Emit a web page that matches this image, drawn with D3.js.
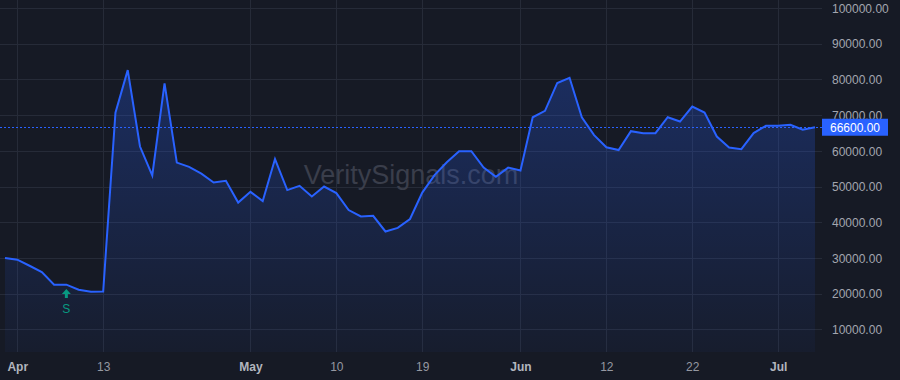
<!DOCTYPE html>
<html>
<head>
<meta charset="utf-8">
<script src="https://cdn.jsdelivr.net/npm/d3@7"></script>
<style>
  html, body { margin: 0; padding: 0; background: #161a25; }
  svg { display: block; }
  text { font-family: "Liberation Sans", Arial, sans-serif; }
</style>
</head>
<body>
<svg id="chart" width="900" height="380"></svg>
<script>
// ---- data ----
const values = [
  30000, 29500, 27800, 26050, 22500, 22500, 21100, 20550, 20600, 70700,
  82600, 61200, 53100, 78900, 56700, 55500, 53600, 51100, 51600, 45500,
  48500, 45900, 57700, 49000, 50200, 47200, 50000, 48150, 43400, 41600,
  41800, 37400, 38400, 40900, 48300, 53200, 56800, 59900, 59900, 55300,
  52700, 55300, 54500, 69400, 71200, 79000, 80450, 69400, 64400, 61000,
  60200, 65500, 64950, 64950, 69400, 68200, 72400, 70700, 64000, 60900,
  60450, 64950, 67000, 67000, 67300, 65900, 66600
];
const tickIndex  = [1, 8, 20, 27, 34, 42, 49, 56, 63];
const tickLabels = ["Apr", "13", "May", "10", "19", "Jun", "12", "22", "Jul"];
const monthLabels = ["Apr", "May", "Jun", "Jul"];
const yTicks = [10000, 20000, 30000, 40000, 50000, 60000, 70000, 80000, 90000, 100000];
const lastPrice = 66600;
const signalIndex = 5;
const signalLabel = "S";
const watermark = "VeritySignals.com";

// ---- layout ----
const W = 900, H = 380;
const plotRight = 822, plotBottom = 352;
const svg = d3.select("#chart");

const x = d3.scaleLinear().domain([0, values.length - 1]).range([5, 815]);
const y = d3.scaleLinear().domain([10000, 100000]).range([329.3, 8]);

const defs = svg.append("defs");
defs.append("clipPath").attr("id", "plotclip")
  .append("rect").attr("x", 0).attr("y", 0).attr("width", plotRight).attr("height", plotBottom);
const grad = defs.append("linearGradient").attr("id", "areaGrad")
  .attr("gradientUnits", "userSpaceOnUse")
  .attr("x1", 0).attr("x2", 0).attr("y1", 60).attr("y2", plotBottom);
grad.append("stop").attr("offset", "0%").attr("stop-color", "#2962ff").attr("stop-opacity", 0.28);
grad.append("stop").attr("offset", "100%").attr("stop-color", "#2962ff").attr("stop-opacity", 0.04);

svg.append("rect").attr("width", W).attr("height", H).attr("fill", "#161a25");

// horizontal grid
const yGrid = d3.axisLeft(y).tickValues(yTicks).tickSize(-plotRight).tickFormat("");
svg.append("g").attr("transform", "translate(0,0)").call(yGrid)
  .call(g => g.select(".domain").remove())
  .call(g => g.selectAll("line").attr("stroke", "#262b38").attr("stroke-width", 1))
  .call(g => g.selectAll(".tick").attr("transform", d => `translate(0,${Math.round(y(d)) + 0.5})`));

// vertical grid
const xGrid = d3.axisBottom(x).tickValues(tickIndex).tickSize(-plotBottom).tickFormat("");
svg.append("g").attr("transform", `translate(0,${plotBottom})`).call(xGrid)
  .call(g => g.select(".domain").remove())
  .call(g => g.selectAll("line").attr("stroke", "#262b38").attr("stroke-width", 1))
  .call(g => g.selectAll(".tick").attr("transform", d => `translate(${Math.round(x(d)) + 0.5},0)`));

// watermark
svg.append("text")
  .attr("x", 411).attr("y", 184)
  .attr("text-anchor", "middle")
  .attr("font-size", 27)
  .attr("fill", "#3a3e4b")
  .text(watermark);

const plot = svg.append("g").attr("clip-path", "url(#plotclip)");

const area = d3.area()
  .x((d, i) => x(i))
  .y0(plotBottom + 5)
  .y1(d => y(d));
plot.append("path").datum(values).attr("d", area).attr("fill", "url(#areaGrad)");

const line = d3.line().x((d, i) => x(i)).y(d => y(d));
plot.append("path").datum(values).attr("d", line)
  .attr("fill", "none").attr("stroke", "#2962ff").attr("stroke-width", 2)
  .attr("stroke-linejoin", "miter");

// last price dotted line
svg.append("line")
  .attr("x1", 0).attr("x2", plotRight)
  .attr("y1", Math.round(y(lastPrice)) + 0.5).attr("y2", Math.round(y(lastPrice)) + 0.5)
  .attr("stroke", "#2962ff").attr("stroke-width", 1).attr("stroke-dasharray", "2,2");

// y axis labels
const yAxis = d3.axisRight(y).tickValues(yTicks).tickSize(0).tickPadding(0)
  .tickFormat(d => d3.format(".2f")(d));
svg.append("g").attr("transform", "translate(832,0)").call(yAxis)
  .call(g => g.select(".domain").remove())
  .call(g => g.selectAll("text")
    .attr("font-family", "Liberation Sans, Arial, sans-serif")
    .attr("font-size", 12).attr("fill", "#a3a6af").attr("dy", "0.35em"));

// last price label
const ly = y(lastPrice);
svg.append("rect").attr("x", 822).attr("y", ly - 8.5).attr("width", 66).attr("height", 17)
  .attr("fill", "#2962ff");
svg.append("text").attr("x", 855).attr("y", ly).attr("dy", "0.36em")
  .attr("text-anchor", "middle").attr("font-size", 12).attr("fill", "#ffffff")
  .text(d3.format(".2f")(lastPrice));

// x axis labels
const xAxis = d3.axisBottom(x).tickValues(tickIndex).tickSize(0).tickPadding(0)
  .tickFormat((d, i) => tickLabels[i]);
svg.append("g").attr("transform", "translate(0,367)").call(xAxis)
  .call(g => g.select(".domain").remove())
  .call(g => g.selectAll("text")
    .attr("y", 0).attr("dy", "0.36em")
    .attr("font-family", "Liberation Sans, Arial, sans-serif")
    .attr("font-size", 12)
    .attr("font-weight", (d, i) => monthLabels.includes(tickLabels[i]) ? "bold" : "normal")
    .attr("fill", (d, i) => monthLabels.includes(tickLabels[i]) ? "#b2b5be" : "#9598a1"));

// signal marker
const sx = x(signalIndex);
const sg = svg.append("g").attr("transform", `translate(${sx},289)`);
sg.append("path").attr("d", "M0,0 L4.5,5 L1.5,5 L1.5,9 L-1.5,9 L-1.5,5 L-4.5,5 Z")
  .attr("fill", "#089981");
svg.append("text").attr("x", sx).attr("y", 309).attr("dy", "0.36em")
  .attr("text-anchor", "middle").attr("font-size", 12).attr("fill", "#089981")
  .text(signalLabel);
</script>
</body>
</html>
